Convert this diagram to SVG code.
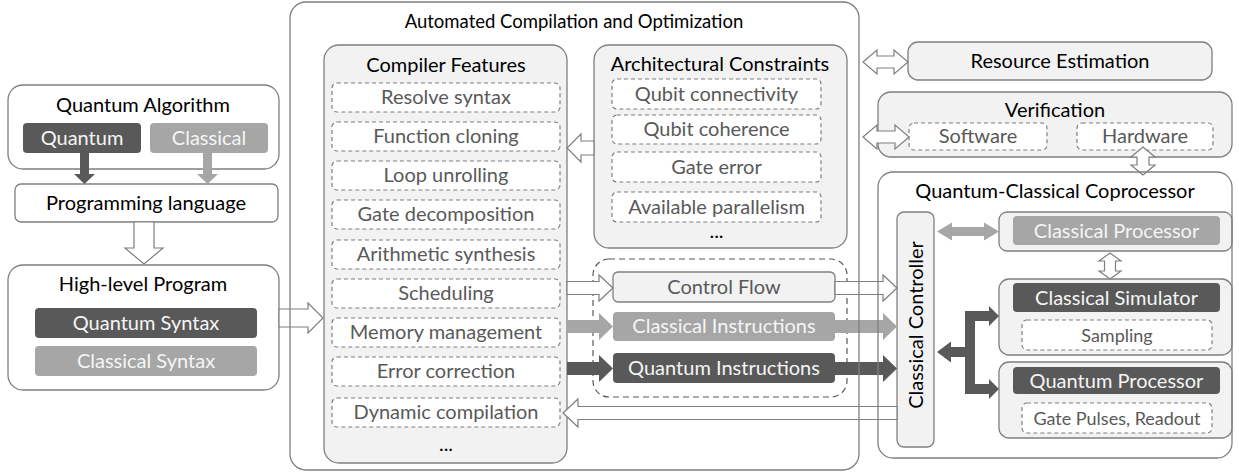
<svg xmlns="http://www.w3.org/2000/svg" width="1239" height="475" viewBox="0 0 1239 475">
  <style>
    text { font-family: Lato, "Open Sans", "Liberation Sans", sans-serif; font-size: 20px; text-anchor: middle; }
    .t { fill: #000; }
    .g { fill: #595959; }
    .w { fill: #f5f5f5; }
    .sm { font-size: 18px; }
    .head { font-size: 18.5px; }
    .box { fill: #fff; stroke: #7f7f7f; stroke-width: 1.3; }
    .frame { fill: none; stroke: #7f7f7f; stroke-width: 1.3; }
    .lite { fill: #f2f2f2; stroke: #7f7f7f; stroke-width: 1.3; }
    .dash { fill: #fff; stroke: #7f7f7f; stroke-width: 1.2; stroke-dasharray: 4 3; }
    .grp { fill: none; stroke: #595959; stroke-width: 1.2; stroke-dasharray: 6 4; }
    .dark { fill: #595959; }
    .mid { fill: #a6a6a6; }
    .hollow { fill: #fff; stroke: #7f7f7f; stroke-width: 1.2; stroke-linejoin: miter; }
  </style>

  <!-- Left column -->
  <g id="quantum-algorithm">
    <rect class="box" x="8" y="85" width="271" height="84" rx="15"/>
    <text class="t" x="143" y="112">Quantum Algorithm</text>
  </g>
  <g id="algo-quantum">
    <rect class="dark" x="23" y="123" width="118" height="30" rx="4"/>
    <text class="w" x="82" y="145">Quantum</text>
  </g>
  <g id="algo-classical">
    <rect class="mid" x="150" y="123" width="118" height="30" rx="4"/>
    <text class="w" x="209" y="145">Classical</text>
  </g>
  <g id="programming-language">
    <rect class="box" x="15" y="184" width="263" height="38" rx="6"/>
    <text class="t" x="146" y="210">Programming language</text>
  </g>
  <g id="high-level-program">
    <rect class="box" x="8" y="265" width="271" height="125" rx="15"/>
    <text class="t" x="143" y="291">High-level Program</text>
    <rect class="dark" x="35" y="308" width="222" height="30" rx="4"/>
    <text class="w" x="146" y="330">Quantum Syntax</text>
    <rect class="mid" x="35" y="346" width="222" height="30" rx="4"/>
    <text class="w" x="146" y="368">Classical Syntax</text>
  </g>

  <!-- Compilation stage -->
  <g id="compiler-features">
    <rect class="lite" x="324" y="45" width="243" height="418" rx="15"/>
    <text class="t" x="446" y="72">Compiler Features</text>
    <rect class="dash" x="332" y="83" width="228" height="29" rx="5"/>
    <text class="g" x="446" y="104">Resolve syntax</text>
    <rect class="dash" x="332" y="122" width="228" height="29" rx="5"/>
    <text class="g" x="446" y="143">Function cloning</text>
    <rect class="dash" x="332" y="161" width="228" height="29" rx="5"/>
    <text class="g" x="446" y="182">Loop unrolling</text>
    <rect class="dash" x="332" y="200" width="228" height="29" rx="5"/>
    <text class="g" x="446" y="221">Gate decomposition</text>
    <rect class="dash" x="332" y="240" width="228" height="29" rx="5"/>
    <text class="g" x="446" y="261">Arithmetic synthesis</text>
    <rect class="dash" x="332" y="279" width="228" height="29" rx="5"/>
    <text class="g" x="446" y="300">Scheduling</text>
    <rect class="dash" x="332" y="318" width="228" height="29" rx="5"/>
    <text class="g" x="446" y="339">Memory management</text>
    <rect class="dash" x="332" y="357" width="228" height="29" rx="5"/>
    <text class="g" x="446" y="378">Error correction</text>
    <rect class="dash" x="332" y="398" width="228" height="29" rx="5"/>
    <text class="g" x="446" y="419">Dynamic compilation</text>
    <text class="t" x="446" y="451">...</text>
  </g>
  <g id="architectural-constraints">
    <rect class="lite" x="594" y="45" width="253" height="203" rx="15"/>
    <text class="t" x="720" y="71">Architectural Constraints</text>
    <rect class="dash" x="612" y="79" width="209" height="30" rx="5"/>
    <text class="g" x="716.5" y="101">Qubit connectivity</text>
    <rect class="dash" x="612" y="115" width="209" height="29" rx="5"/>
    <text class="g" x="716.5" y="136">Qubit coherence</text>
    <rect class="dash" x="612" y="152" width="209" height="30" rx="5"/>
    <text class="g" x="716.5" y="174">Gate error</text>
    <rect class="dash" x="612" y="192" width="209" height="30" rx="5"/>
    <text class="g" x="716.5" y="214">Available parallelism</text>
    <text class="t" x="716.5" y="238">...</text>
  </g>
  <g id="instruction-streams">
    <rect class="grp" x="593" y="259" width="254" height="138" rx="16"/>
  </g>
  <g id="control-flow">
    <rect class="lite" x="613" y="272" width="222" height="30" rx="5"/>
    <text class="g" x="724" y="294">Control Flow</text>
  </g>
  <g id="classical-instructions">
    <rect class="mid" x="613" y="312" width="222" height="29" rx="4"/>
    <text class="w" x="724" y="333">Classical Instructions</text>
  </g>
  <g id="quantum-instructions">
    <rect class="dark" x="613" y="353" width="222" height="30" rx="4"/>
    <text class="w" x="724" y="375">Quantum Instructions</text>
  </g>

  <!-- Right column -->
  <g id="resource-estimation">
    <rect class="lite" x="908" y="42" width="304" height="38" rx="10"/>
    <text class="t" x="1060" y="68">Resource Estimation</text>
  </g>
  <g id="verification">
    <rect class="lite" x="878" y="92" width="354" height="65" rx="13"/>
    <text class="t" x="1055" y="117">Verification</text>
    <rect class="dash" x="909" y="123" width="138" height="27" rx="5"/>
    <text class="g" x="978" y="143">Software</text>
    <rect class="dash" x="1077" y="123" width="136" height="27" rx="5"/>
    <text class="g" x="1145" y="143">Hardware</text>
  </g>
  <g id="classical-controller">
    <rect class="lite" x="897" y="212" width="37" height="235" rx="7"/>
    <text class="t" transform="translate(922.5 325) rotate(-90)">Classical Controller</text>
  </g>
  <g id="classical-processor">
    <rect class="lite" x="999" y="212" width="233" height="39" rx="8"/>
    <rect class="mid" x="1013" y="216" width="207" height="29" rx="4"/>
    <text class="w" x="1116.5" y="237.5">Classical Processor</text>
  </g>
  <g id="classical-simulator">
    <rect class="lite" x="999" y="279" width="233" height="76" rx="10"/>
    <rect class="dark" x="1013" y="283" width="207" height="29" rx="4"/>
    <text class="w" x="1116.5" y="304.5">Classical Simulator</text>
    <rect class="dash" x="1022" y="320" width="190" height="30" rx="5"/>
    <text class="g sm" x="1117" y="341.5">Sampling</text>
  </g>
  <g id="quantum-processor">
    <rect class="lite" x="999" y="362" width="233" height="76" rx="10"/>
    <rect class="dark" x="1013" y="367" width="207" height="27" rx="4"/>
    <text class="w" x="1116.5" y="387.5">Quantum Processor</text>
    <rect class="dash" x="1022" y="403" width="190" height="30" rx="5"/>
    <text class="g sm" x="1117" y="424.5">Gate Pulses, Readout</text>
  </g>

  <!-- Connectors -->
  <g id="connectors">
    <!-- algorithm parts into the language -->
    <polygon class="dark" points="80,153 89,153 89,174 95,174 84.5,184 74,174 80,174"/>
    <polygon class="mid" points="203,153 212,153 212,174 218,174 207.5,184 197,174 203,174"/>
    <!-- language to high-level program -->
    <polygon class="hollow" points="134,222 154,222 154,248 163,248 144,264 125,248 134,248"/>
    <!-- high-level program into compiler -->
    <polygon class="hollow" points="279,309 308,309 308,303 323,318 308,333 308,327 279,327"/>
    <!-- constraints feed compiler -->
    <polygon class="hollow" points="594,141 581,141 581,134 567,148 581,162 581,155 594,155"/>
    <!-- compiler outputs -->
    <polygon class="hollow" points="567,281.5 599,281.5 599,275 613,288 599,301 599,294.5 567,294.5"/>
    <polygon class="mid" points="567,320 599,320 599,313 613,326.5 599,340 599,333 567,333"/>
    <polygon class="dark" points="567,362 599,362 599,355 613,368.5 599,382 599,375 567,375"/>
    <!-- streams into the controller -->
    <polygon class="hollow" points="835,281.5 883,281.5 883,275 897,288 883,301 883,294.5 835,294.5"/>
    <polygon class="mid" points="835,320 883,320 883,313 897,326.5 883,340 883,333 835,333"/>
    <polygon class="dark" points="835,362 883,362 883,355 897,368.5 883,382 883,375 835,375"/>
    <!-- feedback to dynamic compilation -->
    <polygon class="hollow" points="897,406.5 578,406.5 578,399 563,413 578,427 578,419.5 897,419.5"/>
    <!-- resource estimation link -->
    <polygon class="hollow" points="863,62 877,50 877,56 894,56 894,50 908,62 894,74 894,68 877,68 877,74"/>
    <!-- verification link -->
    <polygon class="hollow" points="863,137 877,125 877,131 895,131 895,125 909,137 895,149 895,143 877,143 877,149"/>
    <!-- hardware verification to coprocessor -->
    <polygon class="hollow" points="1143,147 1155,157 1149,157 1149,165 1155,165 1143,175 1131,165 1137,165 1137,157 1131,157"/>
    <!-- controller to classical processor -->
    <polygon class="mid" points="937,231.5 952,222.5 952,227 984,227 984,222.5 999,231.5 984,240.5 984,236 952,236 952,240.5"/>
    <!-- classical processor to simulator -->
    <polygon class="hollow" points="1110,253 1121,261 1115.5,261 1115.5,271 1121,271 1110,279 1099,271 1104.5,271 1104.5,261 1099,261"/>
    <!-- controller to simulator and quantum processor -->
    <path class="dark" d="M937,352 L951,341.5 L951,347 L965,347 L965,311 L989,311 L989,306 L999,316 L989,326 L989,321 L975,321 L975,384 L989,384 L989,379 L999,389 L989,399 L989,394 L965,394 L965,357 L951,357 L951,362.5 Z"/>
  </g>

  <!-- Stage frames, drawn above the connectors that cross them -->
  <g id="automated-compilation">
    <rect class="frame" x="290" y="2" width="569" height="468" rx="16"/>
    <text class="t head" x="574" y="28">Automated Compilation and Optimization</text>
  </g>
  <g id="quantum-classical-coprocessor">
    <rect class="frame" x="878" y="172" width="354" height="286" rx="15"/>
    <text class="t" x="1055" y="198">Quantum-Classical Coprocessor</text>
  </g>
</svg>
